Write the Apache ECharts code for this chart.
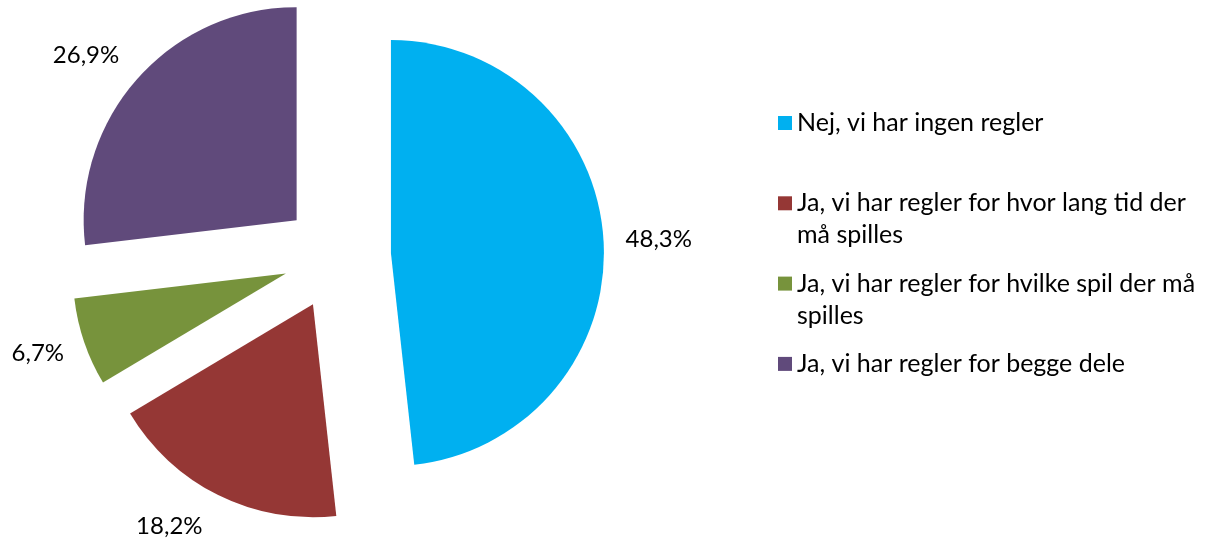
<!DOCTYPE html>
<html>
<head>
<meta charset="utf-8">
<script src="https://cdn.jsdelivr.net/npm/echarts@6/dist/echarts.min.js"></script>
<style>
  html, body { margin: 0; padding: 0; background: #ffffff; }
  #chart { width: 1208px; height: 542px; }
</style>
</head>
<body>
<div id="chart"></div>
<script>
// Answer categories (line breaks as they wrap in the legend)
const categories = [
  'Nej, vi har ingen regler',
  'Ja, vi har regler for hvor lang tid der\nmå spilles',
  'Ja, vi har regler for hvilke spil der må\nspilles',
  'Ja, vi har regler for begge dele'
];
// Share of respondents, percent
const shares = [48.3, 18.2, 6.7, 26.9];
const colors = ['#00B0F0', '#953735', '#77933C', '#604A7B'];

const FONT = 'Lato, "Open Sans", sans-serif';
const LEGEND_FONT = 25;
const LEGEND_LINE = 32;
const legendFirstY = 123;   // centre of the first legend marker
const legendStep = 80.3;    // spacing between legend entries
// fine horizontal nudges of the percentage labels (labelLine.length2)
const labelNudge = [-18, -5, -18, -13];

const chart = echarts.init(document.getElementById('chart'), null, { renderer: 'canvas' });

const pieData = categories.map((name, i) => ({
  name: name,
  value: shares[i],
  selected: true,
  itemStyle: { color: colors[i] },
  labelLine: { show: false, length: 35, length2: labelNudge[i] }
}));

// One legend block per entry so entries sit on an even grid.
// Wrapped entries get an empty leading line so the marker, which is
// centred on the text block, lines up with the first line of text.
const legends = categories.map((name, i) => {
  const lines = name.split('\n').length;
  const markerY = legendFirstY + i * legendStep;
  return {
    orient: 'vertical',
    left: 778,
    top: markerY - LEGEND_LINE / 2 - LEGEND_LINE * (lines - 1),
    padding: 0,
    itemWidth: 14,
    itemHeight: 14,
    icon: 'rect',
    selectedMode: false,
    data: [name],
    formatter: n => (lines > 1 ? '\n' : '') + n,
    textStyle: {
      fontFamily: FONT,
      fontSize: LEGEND_FONT,
      lineHeight: LEGEND_LINE,
      color: '#000000'
    }
  };
});

chart.setOption({
  animation: false,
  backgroundColor: '#ffffff',
  legend: legends,
  series: [{
    type: 'pie',
    center: [337, 256],
    radius: 213,
    startAngle: 90,
    clockwise: true,
    selectedMode: 'multiple',
    selectedOffset: 54,
    avoidLabelOverlap: false,
    itemStyle: { borderWidth: 0 },
    label: {
      show: true,
      position: 'outside',
      fontFamily: FONT,
      fontSize: 24,
      color: '#000000',
      formatter: p => p.value.toFixed(1).replace('.', ',') + '%'
    },
    labelLine: { show: false, length: 35, length2: -10 },
    emphasis: { disabled: true },
    data: pieData
  }]
});
</script>
</body>
</html>
